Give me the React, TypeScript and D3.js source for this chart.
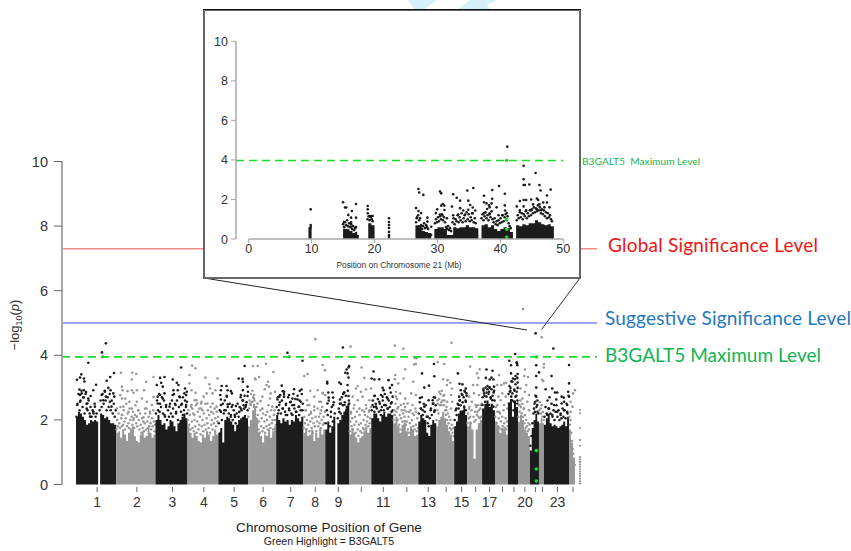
import React from 'react';
import * as d3 from 'd3';

type Pt = [number, number];

// chromosome spans along the genome axis (Mb)
const chromLengths = [249, 243, 198, 191, 184, 174, 168, 136, 149, 136, 136, 155, 111, 111, 80, 93, 80, 80, 62, 74, 56, 31, 155, 37];
const chromLabels = ['1', '2', '3', '4', '5', '6', '7', '8', '9', '', '11', '', '13', '', '15', '', '17', '', '', '20', '', '', '23', ''];
const yTicksMain = [0, 2, 4, 6, 8, 10];
const inset_yTicks = [0, 2, 4, 6, 8, 10];
const inset_xTicks = [0, 10, 20, 30, 40, 50];

const globalLevel = 7.3;
const suggestiveLevel = 5;
const geneLevel = 3.95;

// top of the solid mass of points, equal width bins per chromosome
const chromCeilings: number[][] = [
  [2.1, 2.25, 2.2, 2.1, 2.0, 1.85, 1.9, 2.0, 1.95, 2.0, 1.95, 0, 2.2, 2.15, 2.05, 2.1, 2.0, 1.9, 1.9, 1.85],
  [1.6, 1.65, 1.45, 1.7, 1.55, 1.35, 1.6, 1.7, 1.8, 1.5, 1.35, 1.3, 1.55, 1.65, 1.45, 1.5, 1.75, 1.6, 1.45, 1.55],
  [2.0, 2.15, 2.0, 1.85, 1.9, 1.7, 1.8, 2.0, 1.95, 1.8, 1.65, 1.9, 2.0, 2.1, 2.2, 2.05],
  [1.8, 1.6, 1.45, 1.6, 1.5, 1.35, 1.3, 1.55, 1.45, 1.65, 1.55, 1.35, 1.5, 1.7, 1.55],
  [1.6, 1.75, 1.3, 2.0, 2.1, 2.05, 1.95, 1.85, 1.65, 1.85, 2.0, 2.05, 2.1, 2.15, 2.05],
  [1.8, 2.0, 2.3, 2.4, 2.05, 1.6, 1.5, 1.3, 1.55, 1.5, 1.7, 1.45, 1.65, 1.8],
  [2.15, 2.0, 1.9, 2.05, 1.95, 2.0, 1.85, 2.0, 1.95, 2.15, 2.05, 1.95, 2.1],
  [1.6, 1.75, 1.5, 1.55, 1.7, 1.35, 1.6, 1.45, 1.75, 1.55, 1.7],
  [1.7, 1.95, 1.6, 1.8, 2.1, 0, 1.9, 2.0, 2.15, 2.25, 2.35, 2.5],
  [1.55, 1.75, 1.6, 1.45, 1.3, 1.45, 1.5, 1.65, 1.8, 1.6, 1.75],
  [2.05, 2.2, 2.2, 2.05, 1.95, 2.15, 2.25, 2.1, 2.2, 2.2, 2.15],
  [1.9, 2.1, 1.8, 1.6, 1.85, 2.0, 1.65, 1.5, 1.8, 1.7, 1.5, 1.55],
  [1.95, 2.15, 2.05, 2.0, 1.6, 1.5, 1.85, 2.0, 1.9],
  [1.8, 2.0, 2.1, 2.25, 2.05, 1.85, 1.65, 1.55, 1.35],
  [1.8, 1.95, 2.2, 2.25, 2.3, 2.4, 2.15],
  [1.8, 1.95, 1.7, 0.8, 1.7, 1.9, 2.0],
  [2.35, 2.5, 2.6, 2.4, 2.5, 2.3],
  [1.95, 1.8, 1.6, 1.75, 1.7, 1.55],
  [2.5, 2.65, 2.1, 2.6, 2.4],
  [1.95, 2.15, 2.0, 1.7, 1.6, 1.5],
  [1.05, 1.75, 2.0, 2.2, 1.95],
  [1.9, 2.05, 1.9],
  [1.85, 2.05, 2.2, 1.9, 1.8, 1.85, 1.8, 1.75, 1.8, 1.85, 1.95, 1.8, 2.1],
  [1.7, 1.3, 0.8],
];

// visible points above the mass: [Mb within chromosome, -log10 p]
const chr1Tail: Pt[] = [[6, 3.24], [33, 3.41], [25, 3.31], [49, 3.28], [52, 3.19], [76, 3.77], [161, 4.09], [165, 3.95], [185, 4.37], [190, 3.21], [212, 3.33], [235, 3.45], [124, 3.09], [107, 2.92], [21, 2.94], [49, 2.92], [62, 2.86], [91, 2.74], [25, 2.77], [45, 2.69], [70, 2.51], [117, 2.41], [159, 2.77], [179, 2.87], [200, 2.99], [214, 2.92], [231, 2.82], [237, 2.72], [169, 2.61], [210, 2.56], [220, 2.41], [25, 2.56], [66, 2.35], [8, 2.46], [87, 2.1], [107, 2.25], [35, 2.82], [76, 2.66], [185, 2.72]];
const chr2Tail: Pt[] = [[29, 3.46], [99, 3.46], [124, 3.43], [97, 3.25], [231, 3.33], [185, 3.18], [70, 2.89], [97, 2.92], [128, 2.92], [35, 3.03], [39, 2.92], [107, 2.84], [173, 2.92], [25, 2.77], [56, 2.66], [35, 2.66], [82, 2.56], [128, 2.56], [159, 2.66], [190, 2.56], [220, 2.46], [231, 2.71], [45, 2.41], [97, 2.35], [138, 2.3], [179, 2.35], [4, 2.35], [76, 2.25], [128, 2.1], [210, 2.2], [107, 2.05], [35, 2.15], [169, 2.08]];
const chr3Tail: Pt[] = [[29, 3.3], [56, 3.33], [35, 3.15], [8, 3.08], [45, 3.03], [107, 3.25], [132, 3.15], [142, 3.08], [138, 2.92], [159, 3.62], [183, 2.97], [179, 2.82], [194, 2.87], [190, 2.77], [111, 2.92], [107, 2.77], [148, 2.72], [14, 2.72], [29, 2.77], [56, 2.82], [45, 2.66], [14, 2.51], [66, 2.46], [87, 2.41], [124, 2.46], [159, 2.46], [190, 2.46], [194, 2.56], [25, 2.25], [56, 2.15], [128, 2.25], [169, 2.15], [107, 2.1]];
const chr4Tail: Pt[] = [[29, 3.68], [49, 3.6], [12, 3.39], [111, 3.31], [186, 3.28], [12, 3.13], [136, 3.1], [173, 2.92], [155, 2.82], [50, 2.84], [25, 2.92], [87, 2.56], [56, 2.61], [155, 2.51], [124, 2.51], [25, 2.46], [74, 2.35], [180, 2.41], [93, 2.3], [148, 2.25], [43, 2.15], [118, 2.82], [140, 2.97], [100, 2.72], [60, 2.51], [45, 2.61], [30, 2.35], [85, 2.51]];
const chr5Tail: Pt[] = [[126, 3.28], [150, 3.27], [152, 3.18], [163, 3.67], [181, 3.03], [184, 2.87], [21, 3.05], [51, 3.05], [16, 2.92], [58, 2.92], [78, 2.89], [84, 2.82], [152, 2.92], [140, 2.77], [181, 2.74], [12, 2.77], [53, 2.72], [16, 2.63], [152, 2.61], [16, 2.46], [58, 2.48], [88, 2.46], [109, 2.43], [140, 2.35], [160, 2.35], [171, 2.46], [16, 2.25], [37, 2.3], [78, 2.15], [103, 2.1], [130, 2.25]];
const chr6Tail: Pt[] = [[31, 3.67], [60, 3.67], [111, 3.74], [157, 3.48], [68, 3.33], [43, 3.28], [47, 3.25], [124, 3.18], [115, 3.08], [130, 3.03], [103, 2.95], [167, 2.87], [140, 2.82], [89, 2.72], [136, 2.66], [78, 2.58], [37, 2.77], [37, 2.66], [27, 2.56], [58, 2.51], [89, 2.35], [119, 2.25], [150, 2.41], [16, 2.46], [37, 2.46]];
const chr7Tail: Pt[] = [[70, 4.08], [80, 3.95], [163, 3.83], [35, 3.06], [41, 2.89], [25, 2.77], [49, 2.87], [8, 2.63], [19, 2.72], [49, 2.72], [80, 2.77], [111, 2.95], [146, 2.9], [157, 2.94], [101, 2.66], [132, 2.63], [152, 2.56], [91, 2.56], [111, 2.46], [142, 2.41], [19, 2.46], [60, 2.46], [39, 2.35], [80, 2.35], [122, 2.25], [163, 2.3], [12, 2.2], [60, 2.15], [101, 2.15], [142, 2.15]];
const chr8Tail: Pt[] = [[74, 4.5], [27, 3.42], [6, 3.36], [120, 3.7], [134, 3.54], [43, 2.9], [89, 2.92], [120, 2.84], [68, 2.72], [99, 2.56], [23, 2.61], [37, 2.46], [68, 2.41], [16, 2.3], [47, 2.2], [109, 2.3], [120, 2.82], [110, 2.56], [135, 2.77]];
const chr9Tail: Pt[] = [[109, 4.24], [132, 3.56], [148, 3.67], [124, 3.46], [138, 3.44], [144, 3.62], [144, 3.31], [138, 3.08], [87, 3.16], [97, 3.11], [12, 3.18], [12, 3.13], [118, 2.85], [111, 2.8], [144, 2.74], [19, 2.85], [45, 2.85], [21, 2.69], [49, 2.69], [14, 2.51], [91, 2.63], [97, 2.51], [118, 2.46], [138, 2.35], [87, 2.25], [49, 2.46], [35, 2.25], [148, 2.51], [128, 2.25]];
const chr10Tail: Pt[] = [[8, 4.27], [76, 3.62], [93, 3.3], [52, 3.05], [41, 2.97], [72, 2.87], [103, 2.94], [134, 2.97], [21, 2.72], [82, 2.72], [52, 2.61], [124, 2.61], [31, 2.46], [103, 2.46], [62, 2.35], [93, 2.25], [10, 2.25], [124, 2.3]];
const chr11Tail: Pt[] = [[14, 3.5], [2, 3.28], [19, 3.25], [49, 3.26], [107, 3.23], [128, 3.08], [115, 2.99], [70, 2.99], [76, 2.92], [60, 2.77], [19, 2.74], [101, 2.66], [70, 2.72], [132, 2.72], [8, 2.46], [29, 2.41], [80, 2.46], [122, 2.51], [49, 2.56], [19, 2.25], [60, 2.3], [101, 2.35], [126, 2.25]];
const chr12Tail: Pt[] = [[10, 4.3], [62, 4.2], [134, 3.92], [144, 3.91], [140, 3.73], [130, 3.72], [74, 3.57], [12, 3.39], [10, 3.26], [64, 3.28], [31, 3.13], [124, 3.18], [16, 2.87], [43, 2.82], [111, 2.82], [74, 2.66], [16, 2.72], [140, 2.77], [89, 2.51], [47, 2.46], [119, 2.46], [27, 2.35], [68, 2.3], [99, 2.25], [140, 2.25], [6, 2.15]];
const chr13Tail: Pt[] = [[97, 3.73], [99, 3.35], [23, 3.44], [66, 3.06], [37, 3.0], [10, 2.68], [64, 2.61], [89, 2.61], [103, 2.69], [93, 2.51], [16, 2.35], [37, 2.41], [78, 2.35], [27, 2.15], [58, 2.1], [99, 2.25]];
const chr14Tail: Pt[] = [[8, 3.79], [50, 3.73], [43, 3.26], [70, 3.23], [66, 3.08], [19, 2.87], [50, 2.77], [8, 2.61], [68, 2.56], [31, 2.46], [62, 2.3], [95, 4.39], [87, 3.15], [97, 2.97], [91, 2.77], [99, 2.56], [91, 2.35]];
const chr15Tail: Pt[] = [[23, 3.44], [33, 3.12], [51, 3.1], [41, 2.92], [72, 2.97], [66, 2.87], [76, 2.82], [31, 2.72], [51, 2.77], [35, 2.61], [27, 2.46], [72, 2.56], [62, 2.41], [14, 2.35], [41, 2.25], [72, 2.3]];
const chr16Tail: Pt[] = [[19, 3.65], [78, 3.57], [62, 3.44], [70, 3.3], [37, 3.08], [64, 3.08], [43, 2.82], [12, 2.72], [74, 2.77], [29, 2.56], [54, 2.46], [84, 2.46], [12, 2.35], [64, 2.25]];
const chr17Tail: Pt[] = [[27, 3.56], [64, 3.52], [58, 3.31], [70, 3.25], [23, 3.3], [47, 3.25], [8, 2.96], [33, 2.95], [47, 3.0], [74, 3.03], [74, 2.9], [12, 2.82], [43, 2.87], [27, 2.72], [54, 2.66], [19, 2.56], [64, 2.61], [2, 2.46], [43, 2.46], [70, 2.41], [33, 2.25]];
const chr18Tail: Pt[] = [[25, 3.39], [14, 3.08], [39, 3.08], [56, 3.13], [70, 3.15], [21, 2.72], [45, 2.82], [66, 2.72], [35, 2.61], [14, 2.46], [56, 2.46], [76, 2.35], [25, 2.25]];
const chr19Tail: Pt[] = [[45, 4.04], [8, 3.83], [54, 3.78], [19, 3.69], [58, 3.69], [56, 3.75], [19, 3.44], [60, 3.42], [47, 3.36], [58, 3.3], [31, 3.28], [43, 3.26], [27, 3.18], [60, 3.16], [16, 2.99], [39, 2.94], [60, 2.99], [12, 2.87], [27, 2.82], [54, 2.87], [20, 2.72], [47, 2.72], [6, 2.51], [37, 2.56], [58, 2.51], [16, 2.35], [47, 2.25]];
const chr20Tail: Pt[] = [[31, 5.43], [43, 3.56], [39, 3.36], [62, 3.33], [51, 3.08], [43, 2.87], [16, 2.97], [68, 2.77], [27, 2.66], [58, 2.56], [10, 2.46], [37, 2.35], [68, 2.3]];
const chr21Tail: Pt[] = [[35, 4.68], [39, 3.69], [39, 3.36], [39, 3.0], [39, 2.72], [33, 2.56], [25, 2.35], [45, 2.46], [31, 2.25], [47, 2.25], [56, 3.47]];
const chr22Tail: Pt[] = [[17, 4.56], [31, 3.73], [19, 3.24], [30, 3.62], [27, 3.2]];
const chr23Tail: Pt[] = [[58, 4.21], [155, 3.7], [47, 3.36], [10, 2.95], [51, 2.97], [68, 2.85], [82, 2.85], [76, 2.63], [109, 2.72], [122, 2.69], [124, 2.56], [109, 2.51], [155, 3.13], [150, 2.87], [155, 2.72], [144, 2.46], [124, 2.3], [144, 2.25], [62, 2.46], [31, 2.35], [82, 2.25], [21, 2.15], [103, 2.15], [51, 2.15]];
const chr24Tail: Pt[] = [[37, 2.92], [10, 2.56], [25, 2.82], [21, 2.41], [10, 2.25]];
const chromTails = [chr1Tail, chr2Tail, chr3Tail, chr4Tail, chr5Tail, chr6Tail, chr7Tail, chr8Tail, chr9Tail, chr10Tail, chr11Tail, chr12Tail, chr13Tail, chr14Tail, chr15Tail, chr16Tail, chr17Tail, chr18Tail, chr19Tail, chr20Tail, chr21Tail, chr22Tail, chr23Tail, chr24Tail];

// speckled band just above the mass, evenly spread along each chromosome; 0 = empty
const chromBands: number[][] = [
  [2.1, 2.5, 2.8, 2.3, 2.6, 2.9, 2.4, 2.7, 2.2, 2.8, 2.5, 2.3, 2.6, 2.2, 2.4, 2.1, 2.3, 2.2, 2.5, 2.1, 2.2, 0, 0, 2.3, 2.6, 2.4, 2.8, 2.5, 2.9, 2.6, 2.3, 2.7, 2.4, 2.8, 2.3, 2.6, 2.2, 2.5, 2.1, 2.3],
  [1.7, 2.0, 1.8, 2.2, 1.9, 1.75, 2.4, 2.05, 1.8, 2.15, 1.85, 2.3, 1.95, 1.7, 2.05, 2.5, 1.8, 2.2, 1.9, 1.75, 2.35, 2.0, 1.7, 2.1, 1.85, 2.25, 2.0, 1.75, 2.15, 2.45, 1.9, 2.1, 1.8, 2.3, 2.0, 1.7, 2.2, 1.85, 1.6, 2.05, 1.75, 1.95, 1.65, 1.9, 2.2, 1.7, 2.35, 1.95, 1.75, 2.1, 1.8, 2.25, 1.9, 1.7, 2.05, 1.8, 2.3, 1.95, 1.65, 1.85],
  [2.2, 2.6, 2.3, 2.8, 2.5, 2.4, 2.7, 2.2, 2.6, 2.1, 2.4, 2.0, 2.3, 2.1, 2.5, 2.2, 2.6, 2.35, 2.8, 2.5, 2.2, 2.6, 2.0, 2.4, 2.7, 2.25, 2.5, 2.7, 2.3, 2.6, 2.4, 2.2],
  [2.0, 2.3, 1.85, 2.15, 1.7, 2.4, 1.95, 1.75, 2.2, 1.65, 2.0, 1.8, 2.45, 1.6, 1.95, 2.25, 1.7, 1.85, 2.1, 1.55, 2.35, 1.8, 2.0, 1.65, 2.2, 1.85, 2.5, 1.7, 2.05, 1.9, 2.3, 1.75, 2.15, 1.6, 2.4, 1.85, 2.0, 1.7, 2.2, 1.9, 2.35, 2.05, 1.8, 2.25, 1.95, 2.1],
  [1.9, 2.3, 1.6, 2.0, 2.5, 2.2, 2.6, 2.3, 2.75, 2.4, 2.2, 2.5, 2.1, 2.4, 2.0, 2.3, 2.15, 1.9, 2.2, 2.5, 2.1, 2.4, 2.7, 2.3, 2.6, 2.45, 2.75, 2.4, 2.55, 2.3],
  [2.1, 2.35, 2.6, 2.5, 2.8, 2.55, 2.9, 2.7, 2.4, 2.6, 2.3, 2.05, 2.4, 1.9, 2.15, 1.7, 1.95, 1.6, 2.3, 1.8, 2.05, 1.65, 2.2, 1.75, 1.95, 1.6, 2.15, 1.8, 2.0, 1.7, 2.45, 1.85, 2.1, 1.75, 2.3, 1.9, 2.0, 1.7, 2.15, 2.3, 2.0, 1.85],
  [2.4, 2.7, 2.3, 2.55, 2.2, 2.6, 2.35, 2.8, 2.25, 2.5, 2.15, 2.7, 2.3, 2.55, 2.2, 2.45, 2.8, 2.35, 2.65, 2.25, 2.75, 2.4, 2.6, 2.3, 2.8, 2.5],
  [1.75, 2.1, 1.9, 2.3, 1.7, 2.0, 2.45, 1.85, 2.15, 1.65, 1.95, 2.25, 1.75, 2.05, 1.6, 1.9, 2.3, 1.8, 2.1, 1.65, 1.95, 2.35, 1.8, 2.1, 1.9, 2.2, 1.75, 2.0, 2.4, 1.85, 2.1, 1.9, 2.25],
  [1.9, 2.3, 2.15, 2.6, 1.8, 2.1, 2.4, 1.95, 2.55, 2.2, 0, 0, 2.05, 2.35, 2.5, 2.2, 2.7, 2.45, 2.85, 2.55, 2.75, 2.4, 2.9, 2.6],
  [1.65, 1.95, 2.2, 1.8, 2.05, 1.7, 2.35, 1.85, 2.1, 1.6, 1.95, 2.25, 1.7, 1.5, 1.85, 2.15, 1.65, 1.9, 1.6, 2.3, 1.75, 2.0, 1.7, 2.15, 1.85, 2.35, 1.95, 2.1, 1.8, 2.25, 1.9, 2.05, 2.4],
  [2.3, 2.6, 2.4, 2.75, 2.5, 2.35, 2.65, 2.25, 2.5, 2.15, 2.4, 2.6, 2.3, 2.8, 2.45, 2.7, 2.35, 2.6, 2.4, 2.85, 2.55, 2.3],
  [2.0, 2.3, 2.15, 2.5, 2.25, 2.65, 2.0, 2.4, 1.85, 2.15, 1.7, 2.05, 2.3, 1.95, 2.2, 2.5, 2.1, 2.4, 1.85, 2.25, 1.95, 1.7, 2.1, 1.6, 1.9, 2.3, 1.7, 2.0, 2.2, 1.8, 2.15, 1.7, 2.35, 1.85, 1.65, 2.05, 1.75],
  [2.2, 2.55, 2.35, 2.7, 2.3, 2.5, 2.25, 2.45, 2.1, 1.9, 1.8, 2.05, 2.3, 2.15, 2.5, 2.7, 2.3, 2.45],
  [2.0, 2.3, 2.5, 2.2, 2.65, 2.45, 2.8, 2.55, 2.9, 2.6, 2.75, 2.45, 2.6, 2.3, 2.15, 2.4, 2.0, 2.2, 1.9, 2.1, 1.75, 2.0, 1.7, 1.85, 1.6, 1.75, 1.5],
  [2.0, 2.3, 2.15, 2.5, 2.35, 2.6, 2.45, 2.8, 2.55, 2.7, 2.9, 2.6, 2.75],
  [1.9, 2.2, 2.05, 2.4, 2.1, 1.9, 2.3, 0, 0, 2.1, 1.95, 2.25, 2.0, 2.4, 2.15, 2.45, 2.1, 2.3, 2.05, 2.35, 2.1, 2.5],
  [2.7, 2.9, 2.75, 3.0, 2.85, 3.05, 2.8, 3.0, 2.7, 2.95, 2.75, 2.85, 2.6],
  [2.1, 2.4, 1.9, 2.25, 1.8, 2.05, 1.75, 2.2, 1.95, 1.7, 2.1, 1.8, 2.3, 1.9, 1.75, 2.05, 1.7, 1.95, 1.8],
  [2.8, 3.05, 2.9, 3.2, 2.6, 2.3, 2.9, 3.1, 2.75, 2.6],
  [2.1, 2.45, 2.25, 2.6, 2.4, 2.2, 2.5, 2.1, 2.35, 1.9, 2.15, 1.75, 2.0, 1.8, 1.65, 1.9, 1.7, 1.85],
  [1.2, 1.5, 1.9, 2.2, 2.5, 2.75, 2.4, 2.6, 2.2],
  [2.3, 2.55, 2.35, 2.2, 2.45, 2.1, 2.25, 2.0],
  [2.1, 2.4, 2.2, 2.6, 2.35, 2.7, 2.2, 2.5, 2.1, 2.3, 2.0, 2.25, 2.45, 2.1, 2.3, 2.0, 2.2, 2.05, 2.35, 2.1, 2.3, 2.05, 2.5, 2.2, 2.75],
  [2.1, 1.85, 2.0, 1.6, 1.35, 1.1, 0.95, 0.8, 0.6],
];

// odd column past chromosome 24, Mb from the start of 24
const unplacedPos = 68;
const unplacedValues = [2.31, 2.2, 1.75, 1.38, 1.2, 0.85, 0.78, 0.7, 0.62, 0.55, 0.48, 0.4, 0.33, 0.26, 0.18, 0.1, 0.03];

const geneChromIndex = 20;
const genePos = 40;
const geneValues = [3.95, 1.05, 0.48, 0.11];

// chromosome 21 close-up
const zoomBinStart = 9.5;
const zoomBinWidth = 0.5;
const zoomCeiling = [0.6, 0, 0, 0, 0, 0, 0, 0, 0, 0, 0, 0.5, 0.5, 0.4, 0.3, 0.2, 0, 0, 0, 0.8, 0.7, 0, 0, 0, 0, 0, 0, 0, 0, 0, 0, 0, 0, 0, 0.7, 0.7, 0.4, 0.35, 0.3, 0, 0.5, 0.6, 0.6, 0.5, 0.2, 0.2, 0.6, 0.55, 0.6, 0.6, 0.7, 0.6, 0.6, 0.55, 0, 0.7, 0.75, 0.6, 0.7, 0.5, 0.4, 0.5, 0.6, 0.55, 0.35, 0, 0.7, 0.65, 0.75, 0.7, 0.8, 0.8, 0.95, 0.85, 0.75, 0.7, 0.75, 0.65];
const zoomPoints: Pt[] = [
  [9.85, 1.5], [9.85, 0.71], [9.85, 0.6],
  [15.0, 1.86], [15.3, 1.59], [15.5, 1.59], [16.4, 1.42], [17.06, 1.77], [15.83, 1.22], [16.27, 1.08], [17.06, 1.08], [15.15, 0.86], [16.27, 0.84], [17.06, 0.61], [16.27, 0.62], [17.06, 0.3], [17.06, 0.2], [17.06, 0.1],
  [18.92, 1.67], [18.92, 1.5], [18.92, 1.3], [19.2, 1.16], [19.45, 1.16], [19.7, 1.16],
  [22.3, 1.05], [22.3, 0.86], [22.3, 0.71], [22.3, 0.56], [22.3, 0.36], [22.3, 0.2], [22.3, 0.1],
  [26.97, 2.53], [27.1, 2.35], [27.76, 2.23], [26.6, 1.57], [26.97, 1.42], [27.4, 1.31], [26.7, 1.05], [28.4, 1.08], [28.4, 0.88], [29.0, 0.62], [29.0, 0.2],
  [30.41, 2.4], [30.6, 2.31], [30.83, 1.77], [30.6, 1.69], [31.1, 1.69], [31.1, 1.47], [29.96, 1.5], [29.75, 1.31], [30.4, 1.24], [31.5, 1.05], [30.8, 1.19],
  [32.5, 2.26], [33.06, 2.09], [33.6, 1.94], [32.3, 1.64], [33.6, 1.56], [34.1, 1.44], [34.75, 2.45], [35.7, 2.58], [34.9, 1.94], [35.2, 1.72], [35.6, 1.59], [36.0, 1.44], [34.9, 1.48], [35.5, 1.3], [33.3, 1.24], [32.5, 1.2], [34.4, 1.24],
  [37.4, 2.19], [38.7, 2.48], [39.8, 2.68], [38.7, 2.03], [37.4, 1.86], [37.8, 1.8], [38.2, 1.7], [38.6, 1.8], [37.9, 1.52], [38.3, 1.6], [39.4, 1.6], [37.4, 1.3], [38.3, 1.25],
  [40.7, 2.29], [40.7, 1.7], [41.1, 4.67], [40.75, 1.44], [41.0, 1.31], [39.7, 1.2], [40.3, 1.2],
  [43.7, 3.7], [45.6, 3.34], [43.7, 3.02], [43.7, 2.73], [43.9, 2.73], [44.6, 2.76], [46.2, 2.73], [46.4, 2.45], [48.0, 2.5], [47.4, 2.2], [43.1, 1.92], [43.7, 1.97], [44.1, 1.97], [44.9, 2.0], [45.8, 2.05], [46.0, 1.97], [46.8, 1.85], [47.4, 1.85], [42.6, 1.65], [43.7, 1.65], [45.2, 1.75], [46.2, 1.75], [47.0, 1.6], [47.8, 1.6], [43.1, 1.45], [44.1, 1.45], [44.9, 1.45], [45.8, 1.5], [46.5, 1.45],
];

// clusters of close-up points along the top of the mass: [start Mb, values at 0.16 Mb steps]
const zoomBandStep = 0.16;
const band15 = [0.75, 0.6, 0.85, 0.7, 0.95, 0.65, 0.8, 0.6, 0.75, 0.5, 0.65, 0.45, 0.55];
const band19 = [1.0, 1.15, 0.95, 1.1, 1.0, 0.9];
const band27 = [0.85, 1.1, 1.2, 0.95, 1.05, 0.7, 0.5, 0.65, 0.8, 0.55, 0.7, 0.6, 0.5];
const band30 = [0.8, 1.0, 0.85, 1.1, 0.9, 1.15, 1.0, 1.25, 0.95, 1.1, 0.85, 0.6, 0.5, 0.65, 0.45, 0.55, 0.4];
const band32 = [0.85, 1.05, 0.75, 1.0, 0.9, 1.2, 0.85, 1.1, 0.95, 1.3, 0.85, 1.05, 1.2, 0.9, 1.35, 1.0, 1.25, 0.9, 1.1, 0.95, 1.3, 0.85, 1.05, 0.8];
const band37 = [1.05, 1.25, 0.95, 1.15, 1.35, 1.05, 1.2, 0.95, 1.3, 1.1, 1.4, 1.0, 0.85, 1.05, 0.75, 0.9, 0.7, 0.95, 0.8, 1.05, 0.85, 1.2, 0.9, 1.1, 1.25, 0.95, 1.15, 0.8, 0.65, 0.55];
const band43 = [0.95, 1.2, 1.05, 1.35, 1.1, 1.3, 1.0, 1.25, 1.15, 1.4, 1.05, 1.3, 1.15, 1.45, 1.2, 1.5, 1.3, 1.6, 1.35, 1.55, 1.4, 1.7, 1.45, 1.6, 1.3, 1.5, 1.25, 1.45, 1.15, 1.35, 1.05, 1.3, 1.1, 1.2, 1.0, 0.9];
const zoomBands: [number, number[]][] = [[15, band15], [18.9, band19], [26.6, band27], [29.6, band30], [32.4, band32], [37, band37], [42.6, band43]];
const zoomGenePos = 41;
const zoomGeneValues = [3.97, 1.0, 0.49, 0.1];

const BLACK = '#1a1a1a';
const GREY = '#979797';
const GREEN = '#19dc28';
const AXIS = '#a8a8a8';
const HELV = '"Liberation Sans", Arial, sans-serif';
const CALIBRI = 'Lato, "Open Sans", sans-serif';

const starts = [0, ...d3.cumsum(chromLengths)];
const total = starts[starts.length - 1];

const x = d3.scaleLinear().domain([0, total]).range([76, 575]);
const y = d3.scaleLinear().domain([0, 10]).range([484.5, 161.5]);
const xZ = d3.scaleLinear().domain([0, 50]).range([248.7, 563.3]);
const yZ = d3.scaleLinear().domain([0, 10]).range([239, 41.3]);

const stepArea = (xs: (v: number) => number, ys: (v: number) => number) =>
  d3.area<Pt>().x(d => xs(d[0])).y0(ys(0)).y1(d => ys(d[1])).curve(d3.curveStepAfter);

const binned = (vals: number[], start: number, width: number): Pt[] => [
  ...vals.map((v, i) => [start + i * width, v] as Pt),
  [start + vals.length * width, vals[vals.length - 1]],
];

export default function App() {
  const mainArea = stepArea(x, y);
  const zoomArea = stepArea(xZ, yZ);

  return (
    <svg width={851} height={551} style={{ position: 'absolute', left: 0, top: 0, background: '#fff' }}>
      <defs>
        <filter id="soft" x="-2%" y="-2%" width="104%" height="104%">
          <feGaussianBlur stdDeviation="0.35" />
        </filter>
      </defs>
      <path d="M408 0H437L423 10H415Z M470 0H497L487 5L490 10H457Z" fill="#d4f0fb" />

      {/* main plot */}
      <g filter="url(#soft)">
        {chromCeilings.map((c, i) => {
          const color = i % 2 === 0 ? BLACK : GREY;
          const band = chromBands[i];
          return (
            <g key={i} fill={color}>
              <path d={mainArea(binned(c, starts[i], chromLengths[i] / c.length)) ?? ''} />
              {band.map((v, j) => v > 0 && (
                <circle key={'b' + j} cx={x(starts[i] + ((j + 0.5) / band.length) * chromLengths[i])} cy={y(v)} r={1.25} />
              ))}
              {chromTails[i].map((p, j) => (
                <circle key={j} cx={x(starts[i] + p[0])} cy={y(p[1])} r={1.3} />
              ))}
            </g>
          );
        })}
        {unplacedValues.map((v, i) => (
          <circle key={i} cx={x(starts[23] + unplacedPos)} cy={y(v)} r={1.1} fill={GREY} />
        ))}
        {geneValues.map((v, i) => (
          <circle key={i} cx={x(starts[geneChromIndex] + genePos)} cy={y(v)} r={1.8} fill={GREEN} />
        ))}
      </g>

      <line x1={62} x2={597} y1={y(globalLevel)} y2={y(globalLevel)} stroke="#f08a8a" strokeWidth={1.5} />
      <line x1={62} x2={597} y1={y(suggestiveLevel)} y2={y(suggestiveLevel)} stroke="#a0a0f4" strokeWidth={2} />
      <line x1={62} x2={597} y1={y(geneLevel)} y2={y(geneLevel)} stroke={GREEN} strokeWidth={1.6} strokeDasharray="8 5" />

      {/* y axis */}
      <line x1={62} x2={62} y1={y(0)} y2={y(10)} stroke={AXIS} strokeWidth={2} />
      {yTicksMain.map(t => (
        <g key={t}>
          <line x1={54} x2={62} y1={y(t)} y2={y(t)} stroke="#666" strokeWidth={1} />
          <text x={48} y={y(t) + 5} textAnchor="end" fontFamily={HELV} fontSize={14.5} fill="#333">{t}</text>
        </g>
      ))}
      <text transform="translate(19,325) rotate(-90)" textAnchor="middle" fontFamily={HELV} fontSize={13} fill="#333">
        −log<tspan fontSize={9} dy={3}>10</tspan><tspan dy={-3}>(</tspan><tspan fontStyle="italic">p</tspan>)
      </text>

      {/* x axis */}
      {chromLengths.map((len, i) => {
        const tx = x(starts[i] + len / 2) + 1;
        return (
          <g key={i}>
            <line x1={tx} x2={tx} y1={487} y2={492} stroke="#666" strokeWidth={1} />
            {chromLabels[i] && (
              <text x={tx} y={507} textAnchor="middle" fontFamily={HELV} fontSize={14} fill="#333">{chromLabels[i]}</text>
            )}
          </g>
        );
      })}
      <text x={329} y={532} textAnchor="middle" fontFamily={HELV} fontSize={13.6} fill="#222">Chromosome Position of Gene</text>
      <text x={329} y={545} textAnchor="middle" fontFamily={HELV} fontSize={10.5} fill="#222">Green Highlight = B3GALT5</text>

      {/* level labels */}
      <text x={608} y={252} fontFamily={CALIBRI} fontSize={19} fill="#f01414" textLength={210}>Global Significance Level</text>
      <text x={605} y={325} fontFamily={CALIBRI} fontSize={19} fill="#1f78c1" textLength={246}>Suggestive Significance Level</text>
      <text x={605} y={362} fontFamily={CALIBRI} fontSize={19} fill="#12b452" textLength={216}>B3GALT5 Maximum Level</text>

      {/* connectors to the close-up */}
      <line x1={204} x2={527} y1={278} y2={330} stroke="#222" strokeWidth={1} />
      <line x1={580} x2={541.5} y1={278} y2={329.5} stroke="#333" strokeWidth={1} />

      {/* chromosome 21 close-up */}
      <rect x={204} y={10} width={376} height={268} fill="#fff" stroke="#666" strokeWidth={2} />
      <line x1={203} x2={581} y1={9.5} y2={9.5} stroke="#111" strokeWidth={1} />
      <g filter="url(#soft)" fill={BLACK}>
        <path d={zoomArea(binned(zoomCeiling, zoomBinStart, zoomBinWidth)) ?? ''} />
        {zoomBands.map(([start, vals]) => vals.map((v, i) => (
          <circle key={start + '-' + i} cx={xZ(start + i * zoomBandStep)} cy={yZ(v)} r={1.3} />
        )))}
        {zoomPoints.map((p, i) => (
          <circle key={i} cx={xZ(p[0])} cy={yZ(p[1])} r={1.3} />
        ))}
      </g>
      <line x1={236} x2={563.3} y1={yZ(3.97)} y2={yZ(3.97)} stroke={GREEN} strokeWidth={1.6} strokeDasharray="8 5" />
      {zoomGeneValues.map((v, i) => (
        <circle key={i} cx={xZ(zoomGenePos)} cy={yZ(v)} r={1.7} fill={GREEN} />
      ))}
      <line x1={236} x2={236} y1={yZ(0)} y2={yZ(10)} stroke={AXIS} strokeWidth={1.5} />
      {inset_yTicks.map(t => (
        <g key={t}>
          <line x1={231} x2={236} y1={yZ(t)} y2={yZ(t)} stroke={AXIS} />
          <text x={228} y={yZ(t) + 4.5} textAnchor="end" fontFamily={HELV} fontSize={12.5} fill="#333">{t}</text>
        </g>
      ))}
      <line x1={xZ(0)} x2={xZ(50)} y1={yZ(0)} y2={yZ(0)} stroke={AXIS} strokeWidth={1.5} />
      {inset_xTicks.map(t => (
        <g key={t}>
          <line x1={xZ(t)} x2={xZ(t)} y1={yZ(0)} y2={243} stroke={AXIS} />
          <text x={xZ(t)} y={253} textAnchor="middle" fontFamily={HELV} fontSize={12.5} fill="#333">{t}</text>
        </g>
      ))}
      <text x={399} y={268} textAnchor="middle" fontFamily={HELV} fontSize={8.4} fill="#333">Position on Chromosome 21 (Mb)</text>
      <text x={582} y={165} fontFamily={CALIBRI} fontSize={10.2} fill="#12b452" xmlSpace="preserve">B3GALT5  Maximum Level</text>
    </svg>
  );
}
